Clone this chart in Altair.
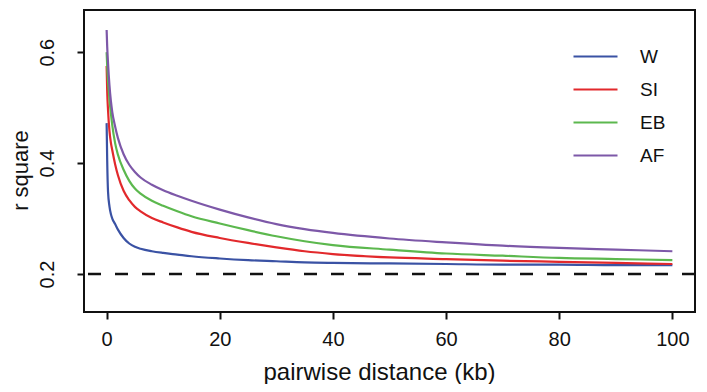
import altair as alt
import pandas as pd

# ---- data ----
distance_kb = [0, 0.1, 0.25, 0.5, 0.75, 1, 1.5, 2, 3, 4, 5, 6, 8, 10, 12.5, 15, 20, 25, 30, 35, 40, 50, 60, 70, 80, 90, 100]
r2_W  = [0.472, 0.405, 0.348, 0.322, 0.308, 0.300, 0.290, 0.280, 0.265, 0.255, 0.249, 0.2455, 0.241, 0.238, 0.235, 0.232, 0.228, 0.225, 0.223, 0.221, 0.220, 0.219, 0.218, 0.217, 0.217, 0.216, 0.216]
r2_SI = [0.575, 0.530, 0.495, 0.458, 0.437, 0.423, 0.398, 0.378, 0.350, 0.333, 0.321, 0.313, 0.301, 0.293, 0.284, 0.276, 0.265, 0.256, 0.248, 0.241, 0.236, 0.230, 0.227, 0.224, 0.222, 0.220, 0.218]
r2_EB = [0.600, 0.575, 0.548, 0.515, 0.490, 0.468, 0.436, 0.415, 0.388, 0.368, 0.354, 0.345, 0.332, 0.323, 0.313, 0.304, 0.291, 0.279, 0.268, 0.259, 0.252, 0.244, 0.237, 0.233, 0.229, 0.227, 0.225]
r2_AF = [0.640, 0.610, 0.580, 0.540, 0.512, 0.492, 0.466, 0.445, 0.416, 0.397, 0.384, 0.374, 0.361, 0.351, 0.341, 0.332, 0.316, 0.302, 0.290, 0.281, 0.274, 0.264, 0.257, 0.251, 0.247, 0.244, 0.241]

populations = ["W", "SI", "EB", "AF"]
colors = ["#3a52a4", "#e2292c", "#5cb84e", "#7d58a8"]
baseline_r2 = [0.2]
x_ticks = [0, 20, 40, 60, 80, 100]
y_ticks = [0.2, 0.4, 0.6]

series = {"W": r2_W, "SI": r2_SI, "EB": r2_EB, "AF": r2_AF}
rows = []
for pop in populations:
    for d, v in zip(distance_kb, series[pop]):
        rows.append({"distance": d, "r2": v, "pop": pop})
df = pd.DataFrame(rows)
base_df = pd.DataFrame({"r2": baseline_r2})

FONT = "Liberation Sans"
INK = "#111"

x_scale = alt.Scale(domain=[-4, 104], nice=False, zero=False)
y_scale = alt.Scale(domain=[0.1315, 0.676], nice=False, zero=False)

lines = alt.Chart(df).mark_line(strokeWidth=2.2, interpolate="monotone").encode(
    x=alt.X("distance:Q", scale=x_scale,
            axis=alt.Axis(title="pairwise distance (kb)", values=x_ticks, format="d",
                          domain=False, grid=False, tickSize=7, tickWidth=2, tickColor=INK,
                          labelFontSize=20, labelPadding=10, labelColor=INK,
                          titleFontSize=24, titleFontWeight="normal", titlePadding=11,
                          titleX=295, titleColor=INK, labelFont=FONT, titleFont=FONT)),
    y=alt.Y("r2:Q", scale=y_scale,
            axis=alt.Axis(title="r square", values=y_ticks, format=".1f",
                          domain=False, grid=False, tickSize=7, tickWidth=2, tickColor=INK,
                          labelFontSize=20, labelPadding=20, labelAngle=-90,
                          labelAlign="center", labelBaseline="bottom", labelColor=INK,
                          titleFontSize=22, titleFontWeight="normal", titlePadding=5,
                          titleY=160, titleColor=INK, labelFont=FONT, titleFont=FONT)),
    color=alt.Color("pop:N", sort=populations,
                    scale=alt.Scale(domain=populations, range=colors),
                    legend=alt.Legend(orient="none", legendX=499, legendY=34, title=None,
                                      symbolType="M-2,0H2", symbolSize=484,
                                      symbolStrokeWidth=2.2, labelOffset=32, rowPadding=10,
                                      labelFontSize=19, labelFont=FONT, labelColor=INK,
                                      padding=0)),
    order=alt.Order("distance:Q"),
)

rule = alt.Chart(base_df).mark_rule(color=INK, strokeWidth=2.5, strokeDash=[13, 14]).encode(
    y=alt.Y("r2:Q", scale=y_scale)
)

chart = alt.layer(rule, lines).properties(
    width=611, height=302,
    autosize=alt.AutoSizeParams(type="none"),
    padding={"left": 76, "top": 2, "right": 4, "bottom": 72},
    background="white",
).configure_view(stroke=INK, strokeWidth=2)

chart.save("out.html", embed_options={"renderer": "svg", "actions": False})
